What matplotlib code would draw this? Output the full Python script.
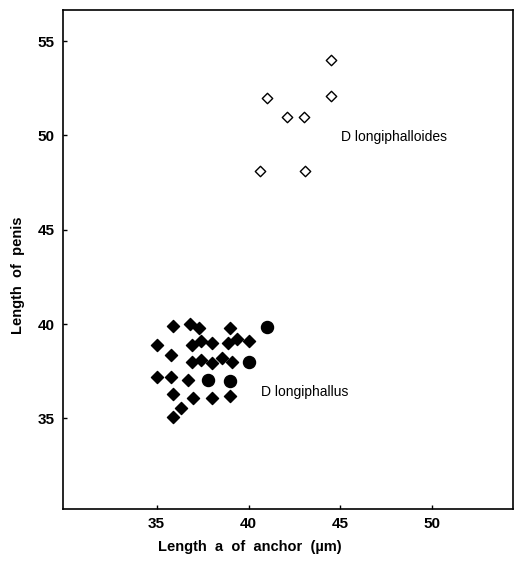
import matplotlib.pyplot as plt

plt.rcParams['font.family'] = ['Liberation Sans', 'DejaVu Sans']

# D longiphalloides (open diamonds)
loides_x = [41.0, 42.1, 43.0, 44.5, 44.5, 40.6, 43.1]
loides_y = [52.0, 51.0, 51.0, 54.0, 52.1, 48.1, 48.1]

# D longiphallus (filled diamonds)
lus_x = [35.9, 36.8, 37.3, 39.0,
         35.0, 36.9, 37.4, 38.0, 38.9, 39.4, 40.0,
         35.8,
         36.9, 37.4, 38.0, 38.55, 39.1,
         35.0, 35.8, 36.7,
         35.9, 37.0, 38.0, 39.0,
         36.3, 35.9]
lus_y = [39.9, 40.0, 39.8, 39.8,
         38.9, 38.9, 39.1, 39.0, 39.0, 39.2, 39.1,
         38.35,
         38.0, 38.1, 37.95, 38.2, 38.0,
         37.2, 37.2, 37.05,
         36.3, 36.1, 36.1, 36.2,
         35.55, 35.1]

# D longiphallus (filled circles)
circ_x = [41.0, 40.0, 37.8, 39.0]
circ_y = [39.85, 38.0, 37.05, 37.0]

xticks = [35, 40, 45, 50]
yticks = [35, 40, 45, 50, 55]

fig = plt.figure(figsize=(5.15, 5.67), dpi=100)
ax = fig.add_axes([63 / 515, 1 - 509 / 567, 450 / 515, 499 / 567])

ax.scatter(loides_x, loides_y, marker='D', s=28, facecolors='white',
           edgecolors='black', linewidths=1.0)
ax.scatter(lus_x, lus_y, marker='D', s=38, color='black')
ax.scatter(circ_x, circ_y, marker='o', s=75, color='black')

ax.text(45.05, 49.9, 'D longiphalloides', fontsize=10, va='center', ha='left')
ax.text(40.7, 36.4, 'D longiphallus', fontsize=10, va='center', ha='left')

ax.set_xlim(29.9, 54.4)
ax.set_ylim(30.2, 56.65)
ax.set_xticks(xticks)
ax.set_yticks(yticks)
ax.tick_params(direction='in', length=3, width=1, labelsize=11, pad=6)
for lbl in ax.get_xticklabels() + ax.get_yticklabels():
    lbl.set_fontweight('bold')
for sp in ax.spines.values():
    sp.set_linewidth(1.2)

fig.text(250 / 515, 1 - 547 / 567, 'Length  a  of  anchor  (\u00b5m)', fontsize=10.5,
         fontweight='bold', ha='center', va='center')
fig.text(18 / 515, 1 - 275 / 567, 'Length  of  penis', fontsize=10.5,
         fontweight='bold', ha='center', va='center', rotation=90)

fig.savefig('out.png', dpi=100)
